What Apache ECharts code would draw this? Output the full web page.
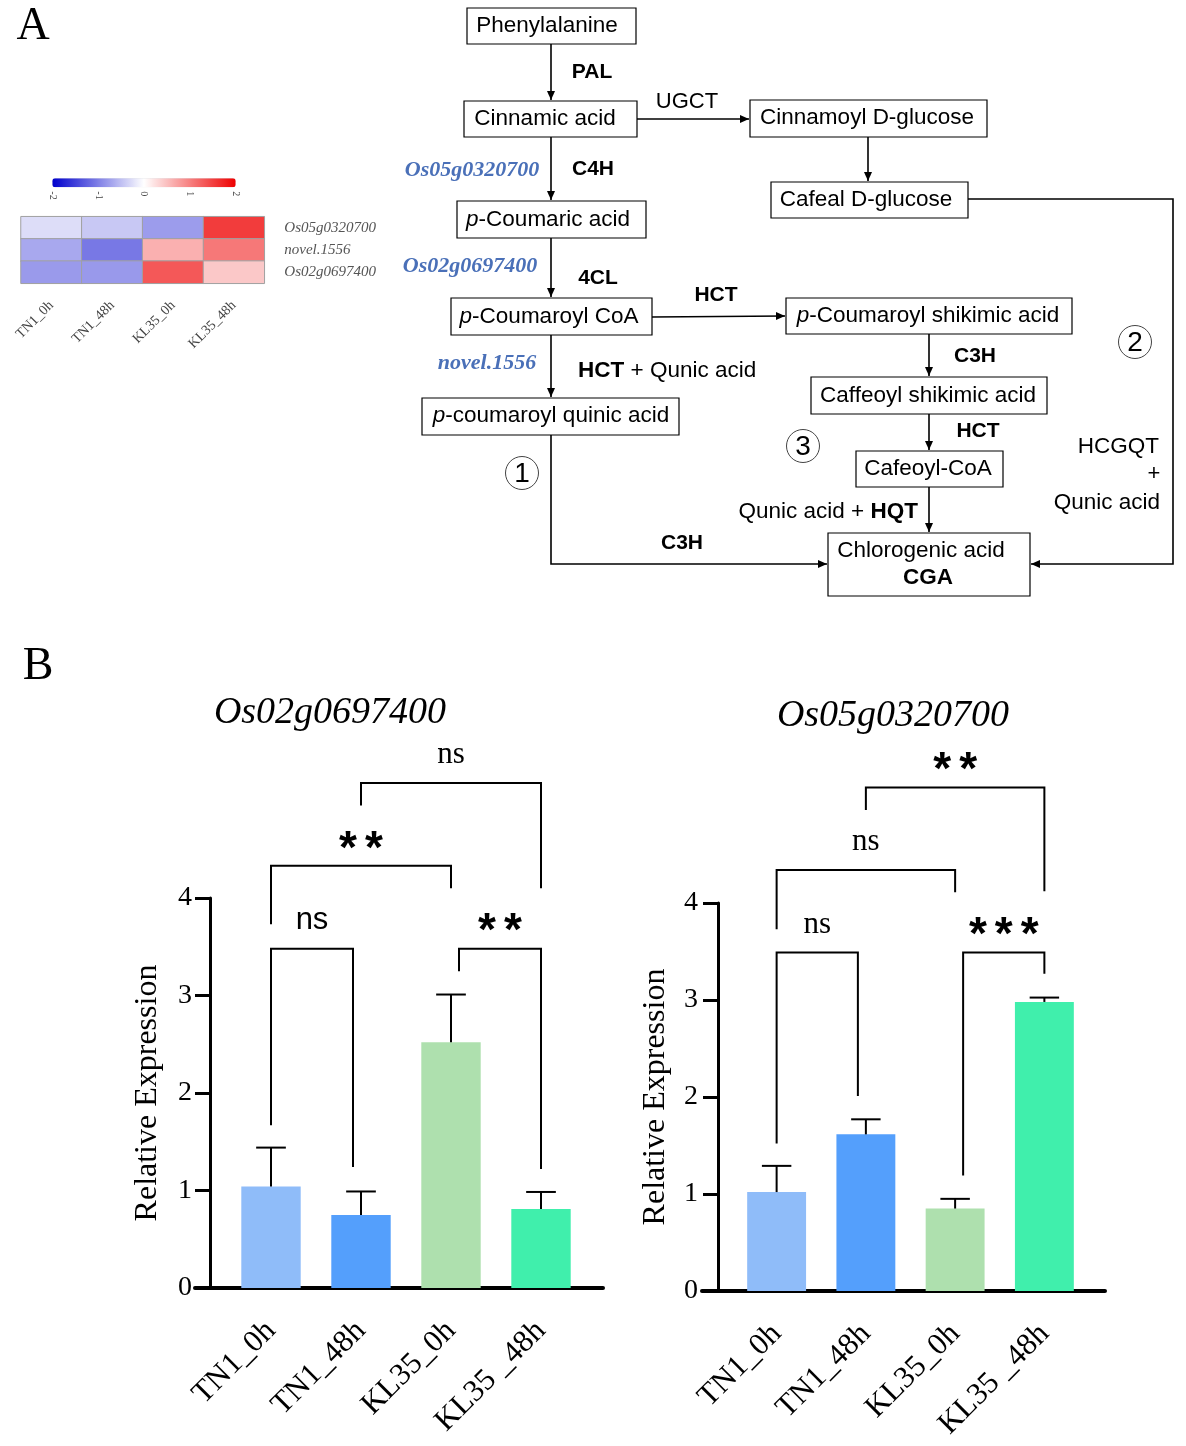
<!DOCTYPE html>
<html><head><meta charset="utf-8">
<script src="https://cdn.jsdelivr.net/npm/echarts@6/dist/echarts.min.js"></script>
<style>html,body{margin:0;padding:0;background:#fff}#c{width:1186px;height:1446px}</style>
</head><body><div id="c"></div>
<script>
// ---------------- DATA ----------------
const groups = ['TN1_0h', 'TN1_48h', 'KL35_0h', 'KL35 _48h'];
const heatCols = ['TN1_0h', 'TN1_48h', 'KL35_0h', 'KL35_48h'];
const heatRows = ['Os05g0320700', 'novel.1556', 'Os02g0697400'];
const heatOs05 = [-0.27, -0.43, -0.78, 1.53];
const heatNovel = [-0.68, -1.06, 0.62, 1.06];
const heatOs02 = [-0.79, -0.80, 1.31, 0.43];
const colorbarTicks = [-2, -1, 0, 1, 2];
const yTicks = [0, 1, 2, 3, 4];
const os02Mean = [1.04, 0.75, 2.52, 0.81];
const os02Err = [0.40, 0.24, 0.49, 0.175];
const os05Mean = [1.02, 1.615, 0.85, 2.98];
const os05Err = [0.27, 0.155, 0.10, 0.045];
// [fromIndex, toIndex, bracket level, left leg end, right leg end]
const os02Brackets = [[0, 1, 3.48, 1.67, 1.24], [2, 3, 3.48, 3.25, 1.22], [0, 2, 4.33, 3.73, 4.10], [1, 3, 5.18, 4.95, 4.10]];
const os02Signif = ['ns', '**', '**', 'ns'];
const os05Brackets = [[0, 1, 3.49, 1.52, 2.01], [2, 3, 3.49, 1.19, 3.27], [0, 2, 4.34, 3.73, 4.11], [1, 3, 5.19, 4.96, 4.12]];
const os05Signif = ['ns', '***', 'ns', '**'];

// ---------------- STYLE ----------------
const SANS = "'Liberation Sans', Arial, sans-serif";
const SERIF = "'Liberation Serif', 'Times New Roman', serif";
const BLUE = '#4a70b8';
const barColors = ['#8fbcf9', '#549ffc', '#aee0ae', '#40efac'];

// ---------------- FLOWCHART (graphic) ----------------
const G = [];
function box(x0, y0, x1, y1) {
  G.push({ type: 'rect', shape: { x: x0, y: y0, width: x1 - x0, height: y1 - y0 },
    style: { fill: '#fff', stroke: '#000', lineWidth: 1.2 }, z: 1 });
}
function txt(x, y, text, o) {
  o = o || {};
  const fs = o.size || 22.5, ff = o.family || SANS;
  G.push({ type: 'text', x: x, y: y, z: 3, style: {
    text: text, fontSize: fs, fontFamily: ff, fontWeight: o.weight || 'normal',
    fontStyle: o.style || 'normal', fill: o.color || '#000',
    align: o.align || 'center', verticalAlign: 'middle',
    rich: {
      i: { fontStyle: 'italic', fontSize: fs, fontFamily: ff, fill: o.color || '#000' },
      b: { fontWeight: 'bold', fontSize: fs, fontFamily: ff, fill: o.color || '#000' }
    } } });
}
function arrow(pts) {
  G.push({ type: 'polyline', shape: { points: pts }, style: { stroke: '#000', lineWidth: 1.6, fill: null }, z: 2 });
  const a = pts[pts.length - 2], b = pts[pts.length - 1];
  const dx = b[0] - a[0], dy = b[1] - a[1], L = Math.hypot(dx, dy);
  const ux = dx / L, uy = dy / L, hl = 9, hw = 4;
  G.push({ type: 'polygon', z: 2, shape: { points: [
    [b[0], b[1]],
    [b[0] - ux * hl - uy * hw, b[1] - uy * hl + ux * hw],
    [b[0] - ux * hl + uy * hw, b[1] - uy * hl - ux * hw]] }, style: { fill: '#000' } });
}
function circled(x, y, n) {
  G.push({ type: 'circle', shape: { cx: x, cy: y, r: 16.5 }, style: { fill: null, stroke: '#444', lineWidth: 1 }, z: 2 });
  txt(x, y + 1, n, { size: 28 });
}

// arrows
arrow([[551, 44], [551, 100]]);
arrow([[551, 137], [551, 200]]);
arrow([[551, 238], [551, 297]]);
arrow([[551, 335], [551, 397]]);
arrow([[637, 119], [749, 119]]);
arrow([[868, 137], [868, 181]]);
arrow([[652, 317], [785, 316]]);
arrow([[929, 334], [929, 376]]);
arrow([[929, 414], [929, 450]]);
arrow([[929, 487], [929, 532]]);
arrow([[551, 435], [551, 564], [827, 564]]);
arrow([[968, 199], [1173, 199], [1173, 564], [1031, 564]]);

// boxes
box(467, 8, 636, 44); txt(547, 26, 'Phenylalanine');
box(464, 101, 637, 137); txt(545, 119, 'Cinnamic acid');
box(750, 100, 987, 137); txt(867, 118, 'Cinnamoyl D-glucose');
box(771, 182, 968, 218); txt(866, 200, 'Cafeal D-glucose');
box(457, 201, 646, 238); txt(548, 220, '{i|p}-Coumaric acid');
box(451, 298, 652, 335); txt(549, 317, '{i|p}-Coumaroyl CoA');
box(422, 398, 679, 435); txt(551, 416, '{i|p}-coumaroyl quinic acid');
box(786, 298, 1072, 334); txt(928, 316, '{i|p}-Coumaroyl shikimic acid');
box(811, 377, 1047, 414); txt(928, 396, 'Caffeoyl shikimic acid');
box(856, 451, 1003, 487); txt(928, 469, 'Cafeoyl-CoA');
box(828, 533, 1030, 596); txt(921, 551, 'Chlorogenic acid'); txt(928, 578, 'CGA', { weight: 'bold' });

// enzyme labels
txt(592, 72, 'PAL', { weight: 'bold', size: 21 });
txt(687, 102, 'UGCT', { size: 22 });
txt(593, 169, 'C4H', { weight: 'bold', size: 21 });
txt(598, 278, '4CL', { weight: 'bold', size: 21 });
txt(716, 295, 'HCT', { weight: 'bold', size: 21 });
txt(578, 371, '{b|HCT} + Qunic acid', { size: 22.5, align: 'left' });
txt(682, 543, 'C3H', { weight: 'bold', size: 21 });
txt(975, 356, 'C3H', { weight: 'bold', size: 21 });
txt(978, 431, 'HCT', { weight: 'bold', size: 21 });
txt(918, 512, 'Qunic acid + {b|HQT}', { size: 22.5, align: 'right' });
txt(1159, 447, 'HCGQT', { size: 22.5, align: 'right' });
txt(1154, 474, '+', { size: 22 });
txt(1160, 503, 'Qunic acid', { size: 22.5, align: 'right' });
// gene labels
txt(472, 170, 'Os05g0320700', { family: SERIF, weight: 'bold', style: 'italic', color: BLUE, size: 22 });
txt(470, 266, 'Os02g0697400', { family: SERIF, weight: 'bold', style: 'italic', color: BLUE, size: 22 });
txt(487, 363, 'novel.1556', { family: SERIF, weight: 'bold', style: 'italic', color: BLUE, size: 22 });
circled(522, 473, '1'); circled(1135, 342, '2'); circled(803, 446, '3');

// panel letters & chart titles
txt(33, 27, 'A', { family: SERIF, size: 46 });
txt(38, 667, 'B', { family: SERIF, size: 46 });
txt(330, 713, 'Os02g0697400', { family: SERIF, style: 'italic', size: 38 });
txt(893, 716, 'Os05g0320700', { family: SERIF, style: 'italic', size: 38 });

// ---------------- SERIES BUILDERS ----------------
function errSeries(xi, yi, means, errs) {
  return { type: 'custom', xAxisIndex: xi, yAxisIndex: yi, z: 5, silent: true,
    data: means.map((m, i) => [i, m, m + errs[i]]), encode: { x: 0, y: [1, 2] },
    renderItem: (params, api) => {
      const i = api.value(0);
      const p0 = api.coord([i, api.value(1)]), p1 = api.coord([i, api.value(2)]);
      const hw = api.size([1, 0])[0] * 0.165;
      return { type: 'group', children: [
        { type: 'line', shape: { x1: p0[0], y1: p0[1], x2: p1[0], y2: p1[1] }, style: { stroke: '#000', lineWidth: 2 } },
        { type: 'line', shape: { x1: p1[0] - hw, y1: p1[1], x2: p1[0] + hw, y2: p1[1] }, style: { stroke: '#000', lineWidth: 2 } }
      ] };
    } };
}
function bracketSeries(xi, yi, brackets, labels, sansNs) {
  const n = groups.length, mid = (n - 1) / 2;
  return { type: 'custom', xAxisIndex: xi, yAxisIndex: yi, z: 6, silent: true, clip: false,
    data: brackets, encode: { x: [0, 1], y: [2, 3, 4] },
    renderItem: (params, api) => {
      const k = params.dataIndex, b = brackets[k];
      const a = b[0], c = b[1];
      let insL = 0, insR = 0;
      if (c - a === 1) { if (Math.abs(a - mid) < Math.abs(c - mid)) insL = 8; else insR = -8; }
      const pb = api.coord([a, b[2]]), pc = api.coord([c, b[2]]);
      const xl = pb[0] + insL, xr = pc[0] + insR, yb = pb[1];
      const yl = api.coord([a, b[3]])[1], yr = api.coord([c, b[4]])[1];
      const lab = labels[k], star = lab.indexOf('*') >= 0;
      const textEl = star ? {
        type: 'text', x: (xl + xr) / 2, y: yb - 16, style: {
          text: lab.split('').map(ch => '{s|' + ch + '}').join(''),
          align: 'center', verticalAlign: 'middle', fill: '#000',
          rich: { s: { fontSize: 46, fontWeight: 'bold', fontFamily: SANS, fill: '#000', padding: [0, 4, 0, 4] } } } }
        : {
        type: 'text', x: (xl + xr) / 2, y: yb - 28, style: {
          text: lab, align: 'center', verticalAlign: 'middle', fill: '#000',
          fontSize: 31, fontWeight: 'normal',
          fontFamily: (sansNs && k === 0) ? SANS : SERIF } };
      return { type: 'group', children: [
        { type: 'polyline', shape: { points: [[xl, yl], [xl, yb], [xr, yb], [xr, yr]] }, style: { stroke: '#000', lineWidth: 2, fill: null } },
        textEl
      ] };
    } };
}

// heatmap data
const heatData = [];
[heatOs05, heatNovel, heatOs02].forEach((row, r) => row.forEach((v, ci) => heatData.push([ci, r, v])));

function barYAxis(gi, off, margin) {
  return { type: 'value', gridIndex: gi, min: 0, max: 4, interval: 1, offset: off,
    axisLine: { show: true, lineStyle: { color: '#000', width: 3 } },
    axisTick: { show: true, length: 15, lineStyle: { color: '#000', width: 3 } },
    axisLabel: { fontSize: 28, fontFamily: SERIF, color: '#000', margin: margin, formatter: v => yTicks.indexOf(v) >= 0 ? String(v) : '' },
    splitLine: { show: false },
    name: 'Relative Expression', nameLocation: 'middle', nameGap: 46,
    nameTextStyle: { fontSize: 32, fontFamily: SERIF, color: '#000' } };
}
function barXAxis(gi) {
  return { type: 'category', gridIndex: gi, data: groups,
    axisLine: { show: false }, axisTick: { show: false },
    axisLabel: { rotate: 45, interval: 0, fontSize: 31, fontFamily: SERIF, color: '#000', margin: 38 } };
}
function helperX(gi) {
  return { type: 'value', gridIndex: gi, min: 0, max: 1,
    axisLine: { show: true, onZero: false, lineStyle: { color: '#000', width: 4 } },
    axisTick: { show: false }, axisLabel: { show: false }, splitLine: { show: false } };
}
function hiddenY(gi) { return { type: 'value', gridIndex: gi, show: false, min: 0, max: 1 }; }

const option = {
  backgroundColor: '#fff',
  animation: false,
  graphic: G,
  grid: [
    { left: 21, top: 216.7, width: 243.3, height: 66.6 },
    { left: 52.3, top: 178.3, width: 183.4, height: 9 },
    { left: 226, top: 898, width: 360, height: 390 },
    { left: 195, top: 898, width: 408, height: 390 },
    { left: 732, top: 903, width: 357, height: 388 },
    { left: 702, top: 903, width: 403, height: 388 }
  ],
  xAxis: [
    { type: 'category', gridIndex: 0, data: heatCols, axisLine: { show: false }, axisTick: { show: false },
      axisLabel: { rotate: 45, interval: 0, fontSize: 14, fontFamily: SERIF, color: '#444', margin: 20 } },
    { type: 'value', gridIndex: 1, min: -2, max: 2, interval: 1, axisLine: { show: false }, axisTick: { show: false },
      splitLine: { show: false },
      axisLabel: { rotate: -90, fontSize: 10, fontFamily: SERIF, color: '#444', margin: 4, formatter: v => colorbarTicks.indexOf(v) >= 0 ? String(v) : '' } },
    barXAxis(2), helperX(3), barXAxis(4), helperX(5)
  ],
  yAxis: [
    { type: 'category', gridIndex: 0, data: heatRows, inverse: true, position: 'right',
      axisLine: { show: false }, axisTick: { show: false },
      axisLabel: { fontSize: 15, fontFamily: SERIF, fontStyle: 'italic', color: '#555', margin: 20 } },
    hiddenY(1),
    barYAxis(2, 16, 18), hiddenY(3), barYAxis(4, 14, 20), hiddenY(5)
  ],
  visualMap: [{
    type: 'continuous', min: -2, max: 2, seriesIndex: 0, orient: 'horizontal',
    left: 52.3, top: 178.3, itemWidth: 9, itemHeight: 183.4, padding: 0,
    calculable: false, text: null, showLabel: false,
    inRange: { color: ['#0000cd', '#ffffff', '#ee0000'] }
  }],
  series: [
    { type: 'heatmap', xAxisIndex: 0, yAxisIndex: 0, data: heatData,
      itemStyle: { borderColor: '#a0a0a0', borderWidth: 1 } },
    { type: 'bar', xAxisIndex: 2, yAxisIndex: 2, data: os02Mean, barWidth: '66%',
      itemStyle: { color: p => barColors[p.dataIndex] } },
    errSeries(2, 2, os02Mean, os02Err),
    bracketSeries(2, 2, os02Brackets, os02Signif, true),
    { type: 'bar', xAxisIndex: 4, yAxisIndex: 4, data: os05Mean, barWidth: '66%',
      itemStyle: { color: p => barColors[p.dataIndex] } },
    errSeries(4, 4, os05Mean, os05Err),
    bracketSeries(4, 4, os05Brackets, os05Signif, false)
  ]
};
const chart = echarts.init(document.getElementById('c'), null, { renderer: 'canvas' });
chart.setOption(option);
</script>
</body></html>
